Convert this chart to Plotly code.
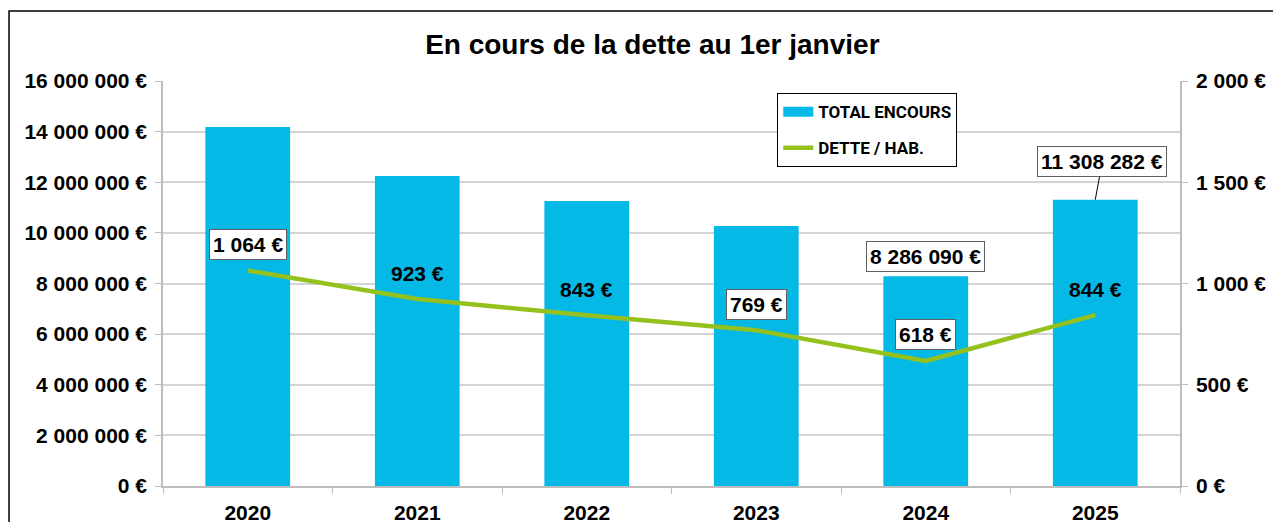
import plotly.graph_objects as go

years = ["2020", "2021", "2022", "2023", "2024", "2025"]
total_encours = [14180000, 12250000, 11260000, 10270000, 8286090, 11308282]
dette_hab = [1064, 923, 843, 769, 618, 844]

left_ticks = [0, 2000000, 4000000, 6000000, 8000000, 10000000, 12000000, 14000000, 16000000]
left_labels = ["0 €", "2 000 000 €", "4 000 000 €", "6 000 000 €", "8 000 000 €",
               "10 000 000 €", "12 000 000 €", "14 000 000 €", "16 000 000 €"]
right_ticks = [0, 500, 1000, 1500, 2000]
right_labels = ["0 €", "500 €", "1 000 €", "1 500 €", "2 000 €"]

line_labels = ["1 064 €", "923 €", "843 €", "769 €", "618 €", "844 €"]
line_boxed = [True, False, False, True, True, False]

BLUE = "#05B9E6"
GREEN = "#95C11F"
FONT = "Arial, Liberation Sans, sans-serif"
NARROW = "Liberation Sans Narrow, Arial Narrow, Roboto, sans-serif"

fig = go.Figure()

fig.add_trace(go.Bar(
    x=years, y=total_encours, name="TOTAL ENCOURS", showlegend=False,
    marker=dict(color=BLUE, line=dict(width=0)),
))
fig.add_trace(go.Scatter(
    x=years, y=dette_hab, name="DETTE / HAB.", yaxis="y2", legendgroup="b",
    legendrank=2, mode="lines", line=dict(color=GREEN, width=4.5),
))
# legend-only entry so the bar key is drawn as a wide flat rectangle like Excel
fig.add_trace(go.Scatter(
    x=[None], y=[None], name="TOTAL ENCOURS", legendgroup="a", legendrank=1,
    mode="lines", line=dict(color=BLUE, width=11),
))

# labels of the per-inhabitant line (x given as category index, strings
# like "2020" would be read as numbers by the annotations)
for i, (v, txt, boxed) in enumerate(zip(dette_hab, line_labels, line_boxed)):
    fig.add_annotation(
        x=i, y=v, yref="y2", text=txt, showarrow=False, yshift=26,
        font=dict(family=FONT, size=21, color="black", weight="bold"),
        bgcolor="white" if boxed else "rgba(0,0,0,0)",
        bordercolor="#606060" if boxed else "rgba(0,0,0,0)",
        borderwidth=1, borderpad=3,
    )

# labels of the last two bars
fig.add_annotation(
    x=4, y=total_encours[4], text="8 286 090 €", showarrow=False, yshift=20,
    font=dict(family=FONT, size=21, color="black", weight="bold"),
    bgcolor="white", bordercolor="#606060", borderwidth=1, borderpad=3,
)
fig.add_annotation(
    x=5, y=total_encours[5], text="11 308 282 €", showarrow=True,
    arrowhead=0, arrowwidth=1, arrowcolor="black", ax=7, ay=-38, standoff=0,
    font=dict(family=FONT, size=21, color="black", weight="bold"),
    bgcolor="white", bordercolor="#606060", borderwidth=1, borderpad=3,
)

# outer frame of the chart
fig.add_shape(type="rect", xref="paper", yref="paper",
              x0=-0.1514, x1=1.12, y0=-0.2, y1=1.1728,
              line=dict(color="black", width=1.5), layer="below")

tickfont = dict(family=FONT, size=21, color="black", weight="bold")

fig.update_layout(
    width=1281, height=522,
    margin=dict(l=155, r=109, t=73, b=44),
    plot_bgcolor="white", paper_bgcolor="white",
    title=dict(text="En cours de la dette au 1er janvier", x=0.503, xanchor="center",
               y=0.931, yanchor="middle",
               font=dict(family=FONT, size=28, color="black", weight="bold")),
    bargap=0.5,
    showlegend=True,
    legend=dict(x=0.604, y=0.97, xanchor="left", yanchor="top",
                bgcolor="white", bordercolor="black", borderwidth=1,
                font=dict(family=NARROW, size=17, color="black", weight="bold"),
                itemwidth=30, tracegroupgap=11),
    xaxis=dict(type="category", range=[-0.5, 5.5], showgrid=False,
               showline=True, linecolor="#bdbdbd",
               linewidth=1.5, ticks="outside", tickson="boundaries", ticklen=6,
               tickcolor="#bdbdbd", tickangle=0, automargin=False,
               ticklabelstandoff=7, tickfont=tickfont),
    yaxis=dict(range=[0, 16000000], tickvals=left_ticks, ticktext=left_labels,
               showgrid=True, gridcolor="#d4d4d4", gridwidth=1.5, zeroline=False,
               showline=True, linecolor="#bdbdbd", linewidth=1.5, automargin=False,
               ticks="outside", ticklen=6, tickcolor="#bdbdbd",
               ticklabelstandoff=4, tickfont=tickfont),
    yaxis2=dict(range=[0, 2000], tickvals=right_ticks, ticktext=right_labels,
                overlaying="y", side="right", showgrid=False, zeroline=False,
                showline=True, linecolor="#bdbdbd", linewidth=1.5, automargin=False,
                ticks="outside", ticklen=6, tickcolor="#bdbdbd",
                ticklabelstandoff=4, tickfont=tickfont),
)

fig.write_html("out.html")
